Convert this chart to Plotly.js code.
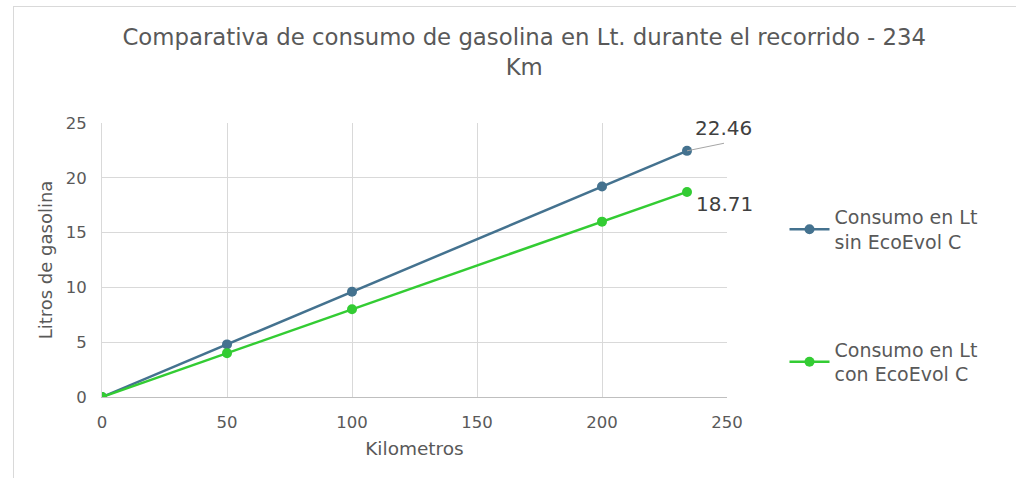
<!DOCTYPE html>
<html>
<head>
<meta charset="utf-8">
<script src="https://cdn.plot.ly/plotly-3.0.1.min.js"></script>
<style>
html,body{margin:0;padding:0;background:#fff;overflow:hidden;}
#wrap{position:relative;width:1016px;height:478px;}
#chart{width:1016px;height:478px;}
#frame{position:absolute;left:13px;top:6px;width:1100px;height:600px;border:1px solid #d9d9d9;pointer-events:none;}
</style>
</head>
<body>
<div id="wrap"><div id="chart"></div><div id="frame"></div></div>
<script>
const kilometros = [0, 50, 100, 200, 234];
const sinEcoEvol = [0, 4.8, 9.6, 19.2, 22.46];
const conEcoEvol = [0, 4, 8, 16, 18.71];
const seriesNames = ["Consumo en Lt<br>sin EcoEvol C", "Consumo en Lt<br>con EcoEvol C"];
const xTicks = [0, 50, 100, 150, 200, 250];
const yTicks = [0, 5, 10, 15, 20, 25];

const FONT = "DejaVu Sans, Verdana, sans-serif";
const TXT = "#595959";
const BLUE = "#44728f";
const GREEN = "#33cc33";

const last = kilometros.length - 1;

const traces = [
  {x: kilometros, y: sinEcoEvol, name: seriesNames[0], mode: "lines+markers",
   line: {color: BLUE, width: 2.5}, marker: {color: BLUE, size: 10},
   legendgroup: "a"},
  {x: kilometros, y: conEcoEvol, name: seriesNames[1], mode: "lines+markers",
   line: {color: GREEN, width: 2.5}, marker: {color: GREEN, size: 10},
   legendgroup: "b"}
];

const layout = {
  width: 1016, height: 478,
  margin: {l: 102, r: 289, t: 123, b: 81},
  paper_bgcolor: "#fff", plot_bgcolor: "#fff",
  font: {family: FONT, color: TXT, size: 16},
  title: {text: "Comparativa de consumo de gasolina en Lt. durante el recorrido - 234<br>Km",
    font: {size: 22.8, color: TXT, family: FONT},
    xref: "container", yref: "container", x: 0.516, xanchor: "center",
    y: 0.906, yanchor: "top"},
  xaxis: {range: [0, 250], tickvals: xTicks, showgrid: true, gridcolor: "#d9d9d9",
    zeroline: false, showline: true, linecolor: "#bfbfbf",
    ticks: "outside", ticklen: 10, tickcolor: "rgba(0,0,0,0)",
    tickfont: {size: 16.5, color: TXT},
    title: {text: "Kilometros", font: {size: 18.5, color: TXT}, standoff: 11}},
  yaxis: {range: [0, 25], tickvals: yTicks, showgrid: true, gridcolor: "#d9d9d9",
    zeroline: false, showline: true, linecolor: "#d9d9d9",
    ticks: "outside", ticklen: 11, tickcolor: "rgba(0,0,0,0)",
    tickfont: {size: 16.5, color: TXT},
    title: {text: "Litros de gasolina", font: {size: 18, color: TXT}, standoff: 8}},
  legend: {x: 1.092, xref: "paper", xanchor: "left", y: 0.37, yanchor: "middle",
    font: {size: 19, color: TXT}, traceorder: "grouped", tracegroupgap: 80,
    itemwidth: 40, bgcolor: "rgba(0,0,0,0)"},
  annotations: [
    {x: kilometros[last], y: sinEcoEvol[last], xref: "x", yref: "y",
     text: " ", showarrow: true, arrowhead: 0, arrowwidth: 1,
     arrowcolor: "#a6a6a6", ax: 39, ay: -8, standoff: 0,
     font: {size: 2, color: "#404040"}},
    {x: kilometros[last], y: sinEcoEvol[last], xref: "x", yref: "y",
     text: String(sinEcoEvol[last]), showarrow: false, xshift: 36, yshift: 23,
     font: {size: 20, color: "#404040"}},
    {x: kilometros[last], y: conEcoEvol[last], xref: "x", yref: "y",
     text: String(conEcoEvol[last]), showarrow: false, xshift: 37, yshift: -12,
     font: {size: 20, color: "#404040"}}
  ]
};

Plotly.newPlot("chart", traces, layout, {displayModeBar: false, staticPlot: true});
</script>
</body>
</html>
